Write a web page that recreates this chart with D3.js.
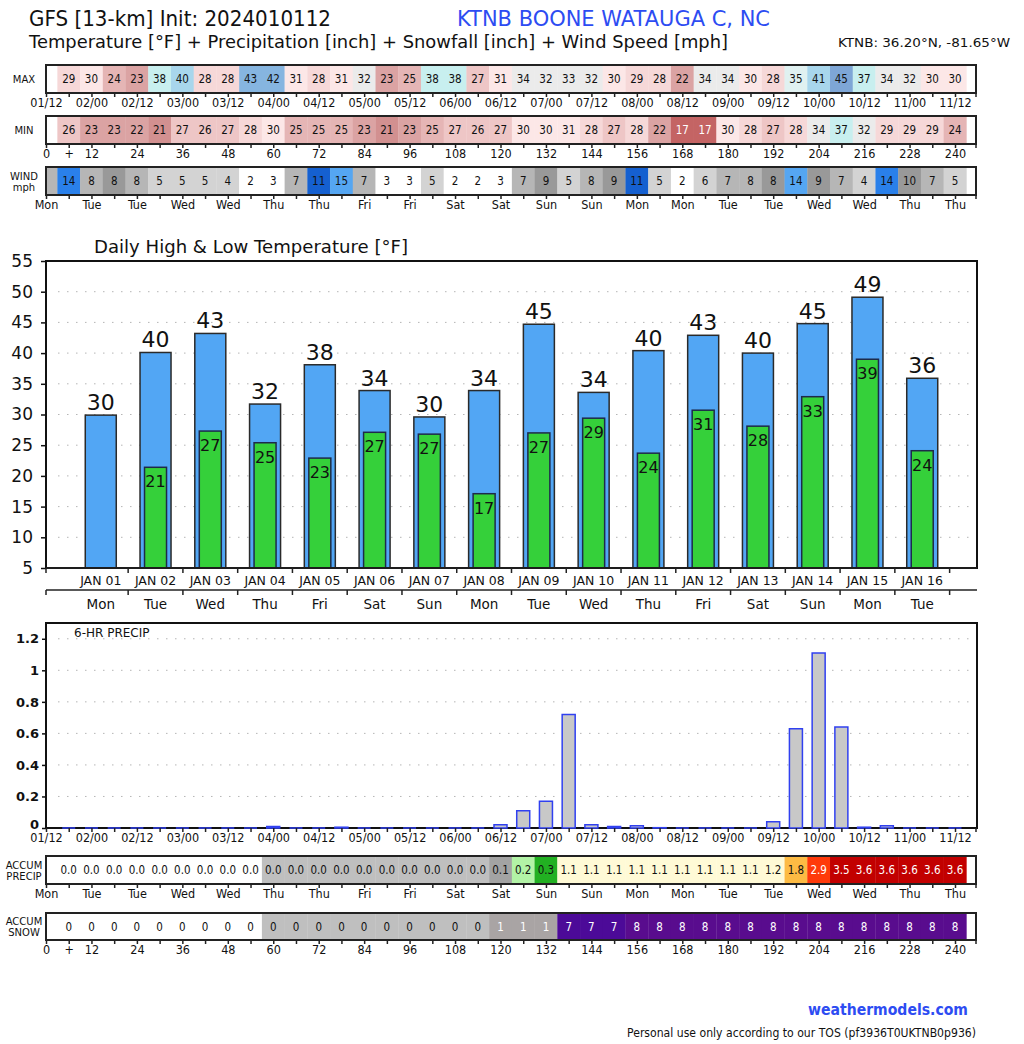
<!DOCTYPE html>
<html><head><meta charset="utf-8">
<script src="https://cdn.jsdelivr.net/npm/d3@7"></script>
<style>
body{margin:0;background:#fff}
text{font-family:"DejaVu Sans",sans-serif;fill:#111}
.cond{font-family:"DejaVu Sans Condensed","DejaVu Sans",sans-serif}
</style>
</head><body>
<svg id="c" width="1024" height="1044" xmlns="http://www.w3.org/2000/svg"></svg>
<script>
// ---------------- DATA ----------------
const hours = d3.range(6, 241, 6);              // forecast hours 6..240
const windHours = d3.range(0, 241, 6);          // wind includes hour 0
const maxTemp = [29,30,24,23,38,40,28,28,43,42,31,28,31,32,23,25,38,38,27,31,
                 34,32,33,32,30,29,28,22,34,34,30,28,35,41,45,37,34,32,30,30];
const minTemp = [26,23,23,22,21,27,26,27,28,30,25,25,25,23,21,23,25,27,26,27,
                 30,30,31,28,27,28,22,17,17,30,28,27,28,34,37,32,29,29,29,24];
const windMph = [6.5,13.7,7.8,8.2,7.9,5.0,5.2,4.8,4.2,2.1,3.0,7.0,11.0,15.0,7.0,3.0,3.0,5.0,2.0,2.0,3.0,
                 7.0,9.0,5.0,7.8,9.0,11.0,5.0,2.0,5.8,7.0,7.8,8.2,14.2,9.0,7.0,4.0,13.8,9.7,7.0,5.0];
const precip6 = [0,0,0,0,0,0,0,0,0,0.01,0,0,0.005,0,0,0,0,0,0,0.02,
                 0.11,0.17,0.72,0.02,0.01,0.015,0.002,0,0,0,0,0.04,0.63,1.11,0.64,0.005,0.015,0,0,0];
const accumPrecip = [0,0,0,0,0,0,0,0,0,0.01,0.01,0.01,0.02,0.02,0.02,0.02,0.02,0.02,0.02,0.07,
                     0.18,0.33,1.07,1.09,1.1,1.11,1.11,1.11,1.11,1.11,1.12,1.16,1.79,2.9,3.54,3.56,3.57,3.57,3.57,3.57];
const accumSnow = [0,0,0,0,0,0,0,0,0,0.1,0.1,0.1,0.1,0.1,0.1,0.1,0.1,0.1,0.1,1,
                   1,1,7,7,7,8,8,8,8,8,8,8,8,8,8,8,8,8,8,8];
const dateLabels = ["01/12","02/00","02/12","03/00","03/12","04/00","04/12","05/00","05/12","06/00","06/12",
                    "07/00","07/12","08/00","08/12","09/00","09/12","10/00","10/12","11/00","11/12"];
const dayLabels12h = ["Mon","Tue","Tue","Wed","Wed","Thu","Thu","Fri","Fri","Sat","Sat",
                      "Sun","Sun","Mon","Mon","Tue","Tue","Wed","Wed","Thu","Thu"];
const days = ["JAN 01","JAN 02","JAN 03","JAN 04","JAN 05","JAN 06","JAN 07","JAN 08",
              "JAN 09","JAN 10","JAN 11","JAN 12","JAN 13","JAN 14","JAN 15","JAN 16"];
const dayNames = ["Mon","Tue","Wed","Thu","Fri","Sat","Sun","Mon","Tue","Wed","Thu","Fri","Sat","Sun","Mon","Tue"];
const dailyHigh = [29.9,40.1,43.2,31.7,38.1,33.9,29.6,33.9,44.7,33.6,40.4,42.9,40.0,44.8,49.1,35.9];
const dailyLow  = [null,21.4,27.3,25.4,22.9,27.1,26.8,17.1,27.0,29.4,23.7,30.7,28.1,32.9,39.0,24.1];

// ---------------- SETUP ----------------
const svg = d3.select("#c");
const L = 46, R = 976;
const hx = d3.scaleLinear().domain([0,240]).range([46,955]);
const cellW = hx(6) - hx(0);

const tempColor = d3.scaleThreshold()
  .domain([18,20,22,24,26,28,30,32,35,37,40,42,44])
  .range(["#c46464","#c87474","#d29090","#dba3a3","#e5b5b5","#eec6c6","#f6d8d8","#fce7e7",
          "#ebebeb","#e0f1f1","#c8efef","#a8d6ec","#86b5e0","#7ea6d6"]);
const windColor = d3.scaleThreshold().domain([4,6,8,10,12,14])
  .range(["#ffffff","#d3d3d3","#b6b6b6","#999999","#1560d0","#2a80ea","#55a6f2"]);
const precipColor = v => v <= 0 ? "#ffffff" : v < 0.05 ? "#bfbfbf" : v < 0.15 ? "#a3a3a3" :
  v < 0.25 ? "#b2f3a6" : v < 0.5 ? "#22b022" : v < 1.0 ? "#fffbd8" : v < 1.5 ? "#fffad6" :
  v < 2.0 ? "#fdbb44" : v < 2.5 ? "#ff7020" : v < 3.0 ? "#ff3a0a" : "#c20000";
const snowColor = v => v <= 0 ? "#ffffff" : v < 0.5 ? "#bfbfbf" : v < 2 ? "#a9a4a4" :
  v < 7.5 ? "#4c0a98" : "#590c8e";

// ---------------- HEADER ----------------
const hdrFont = "'Noto Sans',sans-serif";
svg.append("text").attr("x",29).attr("y",26).attr("font-size",22).attr("font-family",hdrFont).attr("font-weight",500)
  .attr("textLength",302).attr("lengthAdjust","spacingAndGlyphs").text("GFS [13-km] Init: 2024010112");
svg.append("text").attr("x",457).attr("y",26).attr("font-size",22).attr("font-family",hdrFont).attr("font-weight",500)
  .style("fill","#2d4cf2").attr("textLength",313).attr("lengthAdjust","spacingAndGlyphs").text("KTNB BOONE WATAUGA C, NC");
svg.append("text").attr("x",29).attr("y",48).attr("font-size",18).attr("font-family",hdrFont).attr("font-weight",500)
  .attr("textLength",699).attr("lengthAdjust","spacingAndGlyphs")
  .text("Temperature [°F] + Precipitation [inch] + Snowfall [inch] + Wind Speed [mph]");
svg.append("text").attr("x",838).attr("y",47).attr("font-size",13).attr("font-family",hdrFont)
  .attr("textLength",172).attr("lengthAdjust","spacingAndGlyphs").text("KTNB: 36.20°N, -81.65°W");

// ---------------- STRIPS ----------------
let clipId = 0;
function strip(y0, h, hrs, vals, colorFn, fmt, txtColorFn, labelLines) {
  const g = svg.append("g");
  const id = "clip" + (clipId++);
  g.append("clipPath").attr("id", id).append("rect").attr("x", L).attr("y", y0).attr("width", R - L).attr("height", h);
  const cells = g.append("g").attr("clip-path", `url(#${id})`);
  cells.selectAll("rect").data(vals).join("rect")
    .attr("x", (d,i) => hx(hrs[i]) - cellW/2).attr("width", cellW + 0.3)
    .attr("y", y0).attr("height", h).attr("fill", d => colorFn(d));
  cells.selectAll("text").data(vals.map((d,i)=>({d,h:hrs[i]})).filter(o => o.h > 0)).join("text")
    .attr("class","cond").attr("x", o => hx(o.h)).attr("y", y0 + h/2 + 4)
    .attr("text-anchor","middle").attr("font-size",11.5)
    .style("fill", o => txtColorFn(o.d)).text(o => fmt(o.d));
  g.append("rect").attr("x", L).attr("y", y0).attr("width", R - L).attr("height", h)
    .attr("fill","none").attr("stroke","#222").attr("stroke-width",2);
  labelLines.forEach((t,k) => {
    g.append("text").attr("x",24).attr("y", y0 + h/2 + 4 + (k - (labelLines.length-1)/2)*11)
      .attr("text-anchor","middle").attr("font-size",10).text(t);
  });
}
function stripAxis(yb, labelFn) {
  const ax = d3.axisBottom(hx).tickValues(d3.range(0,241,6)).tickSize(4).tickPadding(1).tickFormat(labelFn);
  const g = svg.append("g").attr("transform",`translate(0,${yb})`).call(ax);
  g.select(".domain").remove();
  g.selectAll(".tick line").attr("stroke","#222").attr("stroke-width",1.5);
  g.selectAll(".tick text").attr("class","cond").attr("font-size",12.5).style("fill","#111")
    .attr("font-family",null);
  svg.append("line").attr("x1",R).attr("x2",R).attr("y1",yb).attr("y2",yb+4).attr("stroke","#222").attr("stroke-width",1.5);
}
const dateFmt = h => h % 12 === 0 ? dateLabels[h/12] : "";
const hourFmt = h => h === 6 ? "+" : (h % 12 === 0 ? String(h) : "");
const dayFmt = h => h % 12 === 0 ? dayLabels12h[h/12] : "";
const round0 = d => String(Math.round(d));

strip(65, 28, hours, maxTemp, tempColor, round0, d => d < 18 ? "#fff" : "#111", ["MAX"]);
stripAxis(93, dateFmt);
strip(116, 28, hours, minTemp, tempColor, round0, d => d < 18 ? "#fff" : "#111", ["MIN"]);
stripAxis(144, hourFmt);
strip(167, 28, windHours, windMph, windColor, round0, d => "#111", ["WIND","mph"]);
stripAxis(195, dayFmt);

// ---------------- DAILY TEMPERATURE BARS ----------------
const tTop = 261, tBot = 568;
const tx = d3.scaleLinear().domain([0,17]).range([L, 977]);
const ty = d3.scaleLinear().domain([5,55]).range([tBot, tTop]);
const tg = svg.append("g");
tg.append("text").attr("x",94).attr("y",253).attr("font-size",17)
  .attr("textLength",314).attr("lengthAdjust","spacingAndGlyphs").text("Daily High & Low Temperature [°F]");
tg.selectAll("line.grid").data(d3.range(10,55,5)).join("line").attr("class","grid")
  .attr("x1",L+12).attr("x2",975).attr("y1",d=>ty(d)).attr("y2",d=>ty(d))
  .attr("stroke","#b5b5b5").attr("stroke-width",1).attr("stroke-dasharray","1.5,7.5");
const yAx = d3.axisLeft(ty).tickValues(d3.range(5,56,5)).tickSize(5).tickPadding(8);
const yg = tg.append("g").attr("transform",`translate(${L},0)`).call(yAx);
yg.select(".domain").remove();
yg.selectAll(".tick line").attr("stroke","#111").attr("stroke-width",1.5);
yg.selectAll(".tick text").attr("font-size",17).style("fill","#111").attr("font-family",null);
tg.selectAll("rect.hi").data(dailyHigh).join("rect").attr("class","hi")
  .attr("x",(d,i)=>tx(i+1)-15.5).attr("width",31)
  .attr("y",d=>ty(d)).attr("height",d=>tBot-ty(d))
  .attr("fill","#52a6f4").attr("stroke","#2a2a2a").attr("stroke-width",1.5);
const lowData = dailyLow.map((d,i)=>({d,i})).filter(o=>o.d!==null);
tg.selectAll("rect.lo").data(lowData).join("rect").attr("class","lo")
  .attr("x",o=>tx(o.i+1)-11).attr("width",22)
  .attr("y",o=>ty(o.d)).attr("height",o=>tBot-ty(o.d))
  .attr("fill","#35d03a").attr("stroke","#1e2a4a").attr("stroke-width",1.5);
tg.selectAll("text.hiL").data(dailyHigh).join("text").attr("class","hiL")
  .attr("x",(d,i)=>tx(i+1)).attr("y",d=>ty(d)-5).attr("text-anchor","middle")
  .attr("font-size",22).text(d=>Math.round(d));
tg.selectAll("text.loL").data(lowData).join("text").attr("class","loL")
  .attr("x",o=>tx(o.i+1)).attr("y",o=>ty(o.d)+20).attr("text-anchor","middle")
  .attr("font-size",16).text(o=>Math.round(o.d));
tg.append("rect").attr("x",L).attr("y",tTop).attr("width",977-L).attr("height",tBot-tTop)
  .attr("fill","none").attr("stroke","#111").attr("stroke-width",2);
const boundaries = [0].concat(d3.range(1.5,17,1));
[tBot, 590].forEach(yb => {
  svg.append("line").attr("x1",L).attr("x2",977).attr("y1",yb).attr("y2",yb).attr("stroke","#222").attr("stroke-width",1.5);
  svg.selectAll(null).data(boundaries).join("line")
    .attr("x1",d=>tx(d)).attr("x2",d=>tx(d)).attr("y1",yb).attr("y2",yb+5).attr("stroke","#222").attr("stroke-width",1.5);
});
svg.selectAll("text.day").data(days).join("text").attr("class","day")
  .attr("x",(d,i)=>tx(i+1)).attr("y",585).attr("text-anchor","middle").attr("font-size",12.5).text(d=>d);
svg.selectAll("text.dn").data(dayNames).join("text").attr("class","dn")
  .attr("x",(d,i)=>tx(i+1)).attr("y",609).attr("text-anchor","middle").attr("font-size",13.5).text(d=>d);

// ---------------- 6-HR PRECIP ----------------
const pTop = 623, pBot = 828;
const py = d3.scaleLinear().domain([0,1.3]).range([pBot,pTop]);
const pg = svg.append("g");
pg.selectAll("line.pgrid").data(d3.range(0.2,1.21,0.2)).join("line").attr("class","pgrid")
  .attr("x1",L+12).attr("x2",975).attr("y1",d=>py(d)).attr("y2",d=>py(d))
  .attr("stroke","#b5b5b5").attr("stroke-width",1).attr("stroke-dasharray","1.5,7.5");
pg.append("text").attr("x",74).attr("y",637).attr("font-size",12).text("6-HR PRECIP");
const pyAx = d3.axisLeft(py).tickValues([0,0.2,0.4,0.6,0.8,1,1.2]).tickSize(4).tickPadding(3)
  .tickFormat(d => d === 0 ? "0" : (d === 1 ? "1" : d.toFixed(1)));
const pyg = pg.append("g").attr("transform",`translate(${L},0)`).call(pyAx);
pyg.select(".domain").remove();
pyg.selectAll(".tick line").attr("stroke","#111").attr("stroke-width",1.5);
pyg.selectAll(".tick text").attr("font-size",13).attr("font-weight","bold").style("fill","#111").attr("font-family",null);
pyg.selectAll(".tick text").filter(d => d === 0).attr("dy","0.05em");
pg.append("rect").attr("x",L).attr("y",pTop).attr("width",977-L).attr("height",pBot-pTop)
  .attr("fill","none").attr("stroke","#111").attr("stroke-width",2);
pg.selectAll("path.pb").data(precip6).join("path").attr("class","pb")
  .attr("d",(d,i)=>{const x0=hx(hours[i])-6.5, x1=hx(hours[i])+6.5, yt=py(d);
     return `M${x0},${pBot}L${x0},${yt}L${x1},${yt}L${x1},${pBot}Z`;})
  .attr("fill","#c8c8c8").attr("stroke","#3040f0").attr("stroke-width",1.5);
stripAxis(pBot, dateFmt);

// ---------------- ACCUM STRIPS ----------------
strip(856, 28, hours, accumPrecip, precipColor, d => d.toFixed(1), d => d >= 2.5 ? "#fff" : "#111", ["ACCUM","PRECIP"]);
stripAxis(884, dayFmt);
strip(913, 27, hours, accumSnow, snowColor, round0, d => d >= 0.5 ? "#fff" : "#111", ["ACCUM","SNOW"]);
stripAxis(940, hourFmt);

// ---------------- FOOTER ----------------
svg.append("text").attr("x",808).attr("y",1015).attr("font-size",16).attr("font-weight","bold")
  .style("fill","#2d4cf2").attr("textLength",160).attr("lengthAdjust","spacingAndGlyphs").text("weathermodels.com");
svg.append("text").attr("x",627).attr("y",1037).attr("font-size",12).attr("font-family","'Liberation Sans',Arial,sans-serif")
  .attr("textLength",349).attr("lengthAdjust","spacingAndGlyphs").text("Personal use only according to our TOS (pf3936T0UKTNB0p936)");
</script>
</body></html>
